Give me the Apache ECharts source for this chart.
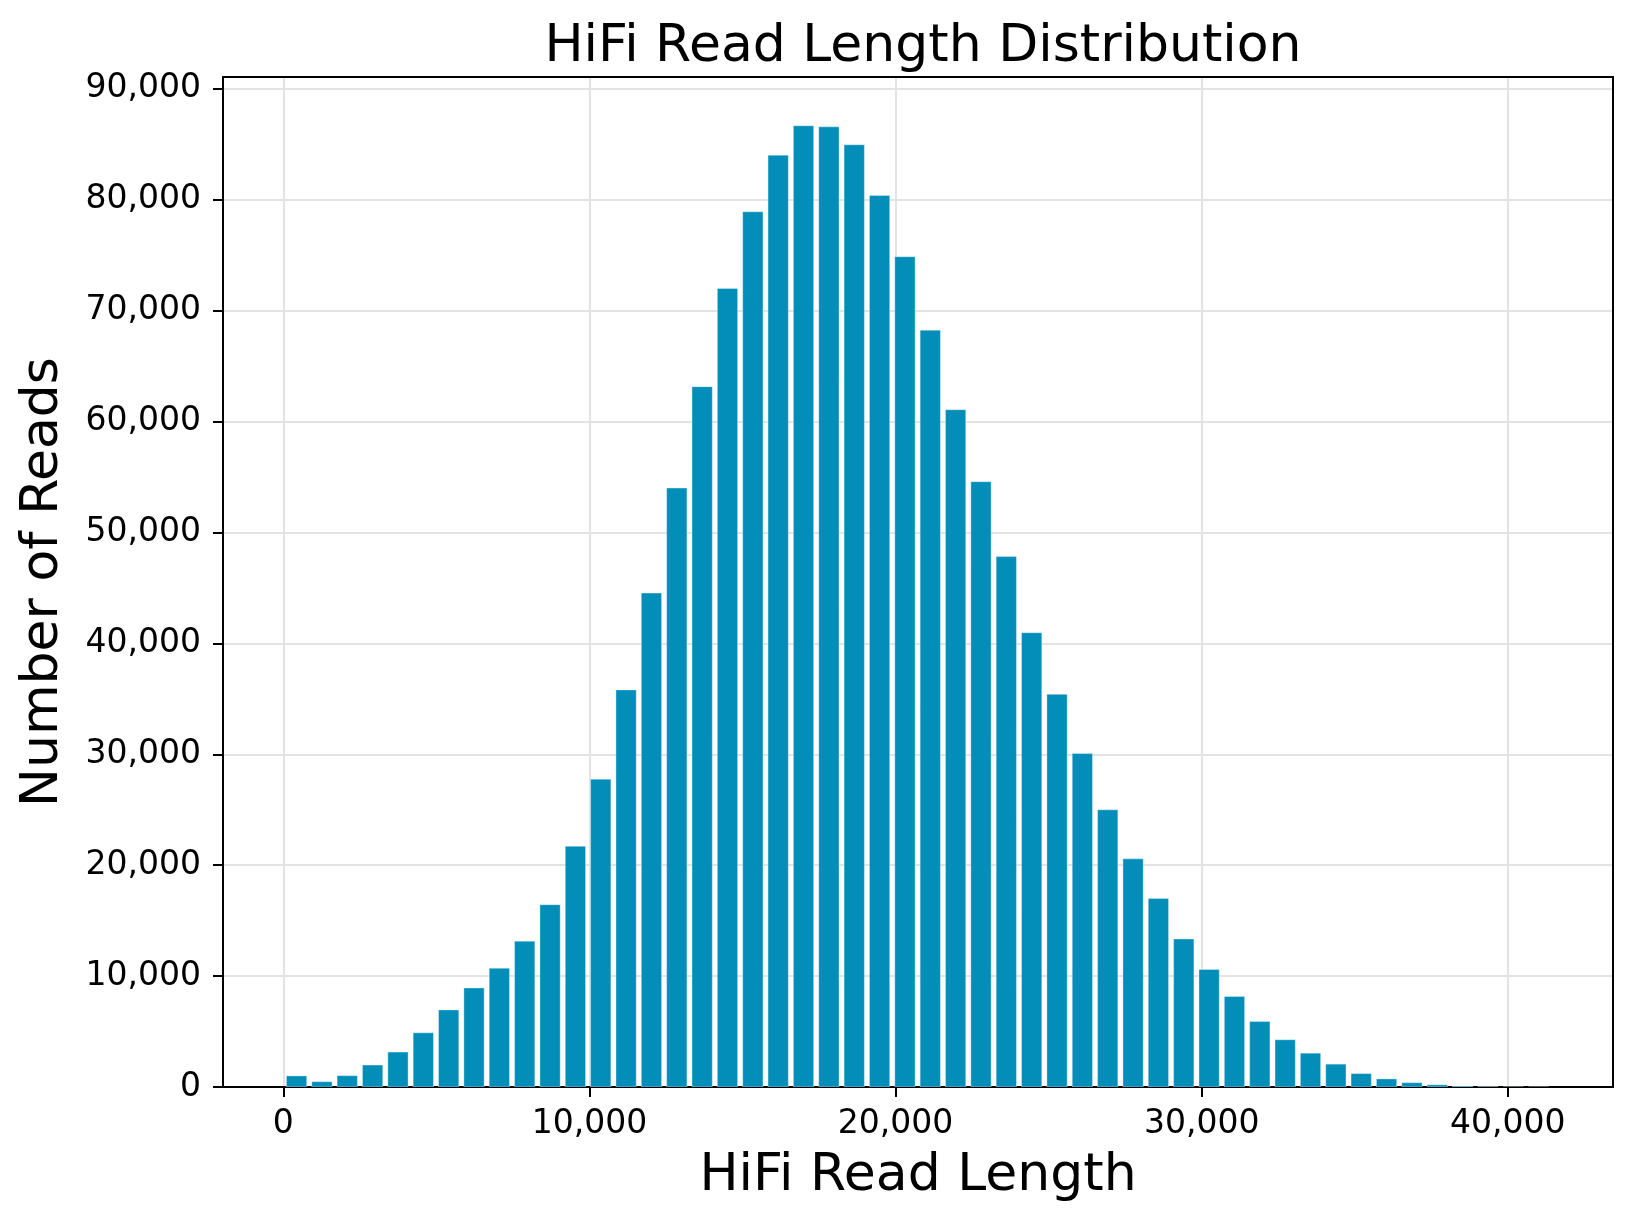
<!DOCTYPE html>
<html>
<head>
<meta charset="utf-8">
<script src="https://cdn.jsdelivr.net/npm/echarts@6/dist/echarts.min.js"></script>
<style>
html,body{margin:0;padding:0;background:#fff;}
#chart{width:1634px;height:1223px;}
</style>
</head>
<body>
<div id="chart"></div>
<script>
// ---- data ----
const titleText = "HiFi Read Length Distribution";
const xAxisTitle = "HiFi Read Length";
const yAxisTitle = "Number of Reads";
const binStart = 20;      // left edge of the first bin (read length)
const binWidth = 828;     // bin width (read length)
const counts = [
  1000, 480, 1020, 1980, 3150, 4880, 6950, 8930, 10710, 13150,
  16440, 21700, 27750, 35800, 44530, 54000, 63140, 72000, 78910, 84010,
  86660, 86570, 84950, 80380, 74860, 68240, 61070, 54580, 47820, 40960,
  35400, 30060, 24990, 20570, 17000, 13340, 10600, 8170, 5900, 4260,
  3050, 2060, 1210, 730, 390, 200, 80, 30, 10, 3
];
const xTicks = [0, 10000, 20000, 30000, 40000];
const yTicks = [0, 10000, 20000, 30000, 40000, 50000, 60000, 70000, 80000, 90000];

// ---- build ----
const barData = counts.map((c, i) => [binStart + i * binWidth, binStart + (i + 1) * binWidth, c]);
const fmt = v => Math.round(v).toLocaleString('en-US');
const FONT = "DejaVu Sans";
const X_MIN = -1969, X_MAX = 43435, Y_MAX = 91063;

const frameAxis = {
  axisLine: {show: true, onZero: false, lineStyle: {color: '#000', width: 2}},
  axisTick: {show: false}, axisLabel: {show: false}, splitLine: {show: false}
};

const chart = echarts.init(document.getElementById('chart'), null, {renderer: 'canvas'});
chart.setOption({
  backgroundColor: '#ffffff',
  animation: false,
  textStyle: {fontFamily: FONT},
  title: {
    text: titleText,
    left: 918, top: 16, textAlign: 'center',
    textStyle: {fontFamily: FONT, fontSize: 52, fontWeight: 'normal', color: '#000'}
  },
  grid: {
    left: 223, right: 21, top: 77, bottom: 136,
    show: false
  },
  xAxis: [{
    type: 'value',
    min: X_MIN, max: X_MAX,
    splitNumber: 4,
    name: xAxisTitle, nameLocation: 'middle', nameGap: 63,
    nameTextStyle: {fontFamily: FONT, fontSize: 52, color: '#000'},
    axisLine: {show: true, onZero: false, lineStyle: {color: '#000', width: 2}},
    axisTick: {show: true, length: 10, inside: false, customValues: xTicks, lineStyle: {color: '#000', width: 2}},
    axisLabel: {
      show: true, margin: 21, fontFamily: FONT, fontSize: 33, color: '#000',
      customValues: xTicks,
      formatter: v => fmt(v)
    },
    splitLine: {show: true, lineStyle: {color: '#e3e3e3', width: 2}}
  }, Object.assign({type: 'value', position: 'top', min: X_MIN, max: X_MAX}, frameAxis)],
  yAxis: [{
    type: 'value',
    min: 0, max: Y_MAX, interval: 10000,
    name: yAxisTitle, nameLocation: 'middle', nameGap: 154, nameRotate: 90,
    nameTextStyle: {fontFamily: FONT, fontSize: 52, color: '#000'},
    axisLine: {show: true, onZero: false, lineStyle: {color: '#000', width: 2}},
    axisTick: {show: true, length: 10, inside: false, customValues: yTicks, lineStyle: {color: '#000', width: 2}},
    axisLabel: {
      show: true, margin: 22, fontFamily: FONT, fontSize: 33, color: '#000',
      padding: [7, 0, 0, 0],
      customValues: yTicks,
      formatter: v => fmt(v)
    },
    splitLine: {show: true, lineStyle: {color: '#e3e3e3', width: 2}}
  }, Object.assign({type: 'value', position: 'right', min: 0, max: Y_MAX}, frameAxis)],
  series: [{
    type: 'custom',
    xAxisIndex: 0, yAxisIndex: 0,
    data: barData,
    encode: {x: [0, 1], y: 2},
    clip: true,
    renderItem: function (params, api) {
      const x0 = api.value(0), x1 = api.value(1), h = api.value(2);
      const pad = (x1 - x0) * 0.1;
      const p0 = api.coord([x0 + pad, 0]);
      const p1 = api.coord([x1 - pad, h]);
      return {
        type: 'rect',
        shape: {x: p0[0], y: p1[1], width: p1[0] - p0[0], height: p0[1] - p1[1]},
        style: {fill: '#038eb9', stroke: 'rgba(255,255,255,0.35)', lineWidth: 1}
      };
    }
  }]
});
</script>
</body>
</html>
